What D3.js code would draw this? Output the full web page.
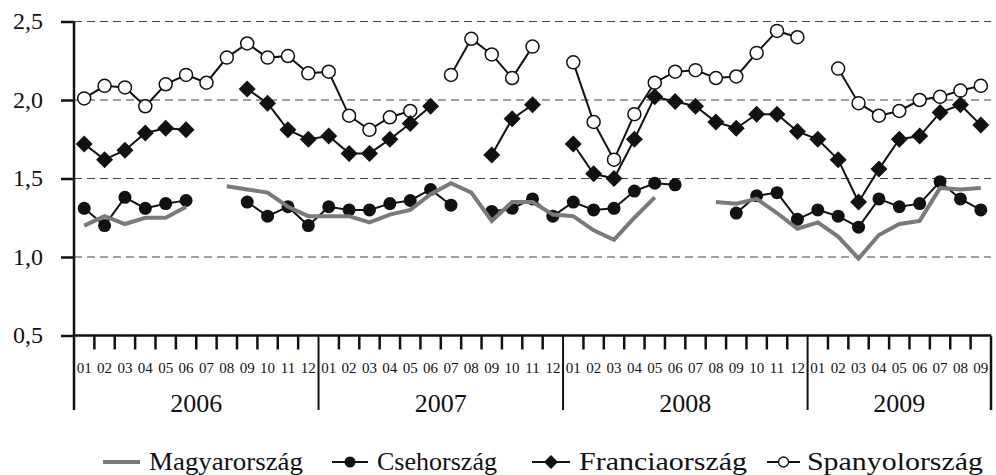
<!DOCTYPE html>
<html>
<head>
<meta charset="utf-8">
<script src="https://cdn.jsdelivr.net/npm/d3@7"></script>
<style>
  body { margin: 0; background: #fff; }
  text { font-family: "Liberation Serif", "Times New Roman", serif; fill: #111; }
</style>
</head>
<body>
<svg id="chart" width="996" height="475"></svg>
<script>
// months 2006-01 .. 2009-09
var years = ["2006", "2007", "2008", "2009"];
var monthsPerYear = [12, 12, 12, 9];
var monthLabels = ["01","02","03","04","05","06","07","08","09","10","11","12"];
var yTicks = [0.5, 1.0, 1.5, 2.0, 2.5];

var magyar = [1.20,1.26,1.21,1.25,1.25,1.32,null,1.45,1.43,1.41,1.32,1.26,
	1.26,1.26,1.22,1.27,1.30,1.40,1.47,1.41,1.23,1.35,1.35,1.27,
	1.26,1.17,1.11,1.25,1.38,null,null,1.35,1.34,1.37,1.28,1.18,
	1.22,1.13,0.99,1.14,1.21,1.23,1.44,1.43,1.44];
var cseh = [1.31,1.20,1.38,1.31,1.34,1.36,null,null,1.35,1.26,1.32,1.20,
	1.32,1.30,1.30,1.34,1.36,1.43,1.33,null,1.29,1.31,1.37,1.26,
	1.35,1.30,1.31,1.42,1.47,1.46,null,null,1.28,1.39,1.41,1.24,
	1.30,1.26,1.19,1.37,1.32,1.34,1.48,1.37,1.30];
var francia = [1.72,1.62,1.68,1.79,1.82,1.81,null,null,2.07,1.98,1.81,1.75,
	1.77,1.66,1.66,1.75,1.85,1.96,null,null,1.65,1.88,1.97,null,
	1.72,1.53,1.50,1.75,2.02,1.99,1.96,1.86,1.82,1.91,1.91,1.80,
	1.75,1.62,1.35,1.56,1.75,1.77,1.92,1.97,1.84];
var spanyol = [2.01,2.09,2.08,1.96,2.10,2.16,2.11,2.27,2.36,2.27,2.28,2.17,
	2.18,1.90,1.81,1.89,1.93,null,2.16,2.39,2.29,2.14,2.34,null,
	2.24,1.86,1.62,1.91,2.11,2.18,2.19,2.14,2.15,2.30,2.44,2.40,
	null,2.20,1.98,1.90,1.93,2.00,2.02,2.06,2.09];

var seriesNames = ["Magyarország", "Csehország", "Franciaország", "Spanyolország"];

// month list built from the years
var months = [];
years.forEach(function(yr, i) {
	for (var m = 0; m < monthsPerYear[i]; m++) months.push({year: yr, label: monthLabels[m]});
});

var svg = d3.select("#chart"),
	plotL = 74, plotR = 991, plotT = 21.5, plotB = 335.5, axisLow = 410;

var x = d3.scaleBand().domain(d3.range(months.length)).range([plotL, plotR]).padding(0);
var y = d3.scaleLinear().domain([0.5, 2.5]).range([plotB, plotT]);
var cx = function(i) { return x(i) + x.bandwidth() / 2; };

// dashed grid
svg.append("g").selectAll("line").data(yTicks.slice(1)).join("line")
	.attr("x1", plotL).attr("x2", plotR)
	.attr("y1", d => y(d)).attr("y2", d => y(d))
	.attr("stroke", "#444").attr("stroke-width", 1.2)
	.attr("stroke-dasharray", "8,5");

// y axis
var yAxis = svg.append("g").attr("transform", "translate(" + plotL + ",0)")
	.call(d3.axisLeft(y).tickValues(yTicks).tickSize(13).tickPadding(18)
		.tickFormat(d => d3.format(".1f")(d).replace(".", ",")));
yAxis.attr("font-family", "Liberation Serif").attr("font-size", 24);
yAxis.select(".domain").remove();
yAxis.selectAll("line").attr("stroke", "#111").attr("stroke-width", 2.5);
yAxis.selectAll("text").attr("dy", "0.3em").attr("fill", "#111");
svg.append("line").attr("x1", plotL).attr("x2", plotL).attr("y1", plotT).attr("y2", axisLow)
	.attr("stroke", "#111").attr("stroke-width", 2.5);

// x axis: month ticks, year separators
svg.append("line").attr("x1", plotL).attr("x2", plotR).attr("y1", plotB).attr("y2", plotB)
	.attr("stroke", "#111").attr("stroke-width", 2.5);
var bounds = d3.range(1, months.length);
svg.append("g").selectAll("line").data(bounds).join("line")
	.attr("x1", d => x(d)).attr("x2", d => x(d))
	.attr("y1", plotB).attr("y2", d => months[d].label == "01" ? axisLow : plotB + 14)
	.attr("stroke", "#111").attr("stroke-width", d => months[d].label == "01" ? 2 : 2.5);
svg.append("line").attr("x1", plotR).attr("x2", plotR).attr("y1", plotB).attr("y2", axisLow)
	.attr("stroke", "#111").attr("stroke-width", 2.5);

svg.append("g").selectAll("text").data(months).join("text")
	.attr("x", (d, i) => cx(i)).attr("y", 373)
	.attr("text-anchor", "middle").attr("font-size", 15)
	.text(d => d.label);

var start = 0;
years.forEach(function(yr, i) {
	var a = x(start), b = x(start + monthsPerYear[i] - 1) + x.bandwidth();
	svg.append("text").attr("x", (a + b) / 2).attr("y", 412)
		.attr("text-anchor", "middle").attr("font-size", 26).text(yr);
	start += monthsPerYear[i];
});

// series
function lineFor(vals) {
	return d3.line().defined(d => d != null).x((d, i) => cx(i)).y(d => y(d))(vals);
}
function diamond(g, px, py, s) {
	g.append("path").attr("d", "M" + px + "," + (py - s) + "L" + (px + s) + "," + py +
		"L" + px + "," + (py + s) + "L" + (px - s) + "," + py + "Z").attr("fill", "#111");
}

var gS = svg.append("g");
gS.append("path").attr("d", lineFor(spanyol)).attr("fill", "none").attr("stroke", "#111").attr("stroke-width", 2);
spanyol.forEach(function(v, i) {
	if (v == null) return;
	gS.append("circle").attr("cx", cx(i)).attr("cy", y(v)).attr("r", 6.5)
		.attr("fill", "#fff").attr("stroke", "#111").attr("stroke-width", 1.5);
});

var gF = svg.append("g");
gF.append("path").attr("d", lineFor(francia)).attr("fill", "none").attr("stroke", "#111").attr("stroke-width", 2);
francia.forEach(function(v, i) {
	if (v == null) return;
	diamond(gF, cx(i), y(v), 8.5);
});

var gC = svg.append("g");
gC.append("path").attr("d", lineFor(cseh)).attr("fill", "none").attr("stroke", "#111").attr("stroke-width", 2);
cseh.forEach(function(v, i) {
	if (v == null) return;
	gC.append("circle").attr("cx", cx(i)).attr("cy", y(v)).attr("r", 6.5).attr("fill", "#111");
});

svg.append("path").attr("d", lineFor(magyar)).attr("fill", "none")
	.attr("stroke", "#7a7a7a").attr("stroke-width", 4);

// legend
var legX = [103, 332, 532, 767], legW = [37, 36, 38, 33];
var legTextX = [149, 377, 579, 807], legTextW = [154, 120, 168, 176];
var legY = 462;
seriesNames.forEach(function(name, i) {
	var g = svg.append("g");
	var x0 = legX[i], x1 = legX[i] + legW[i], xm = (x0 + x1) / 2;
	if (i == 0) {
		g.append("line").attr("x1", x0).attr("x2", x1).attr("y1", legY).attr("y2", legY)
			.attr("stroke", "#7a7a7a").attr("stroke-width", 4);
	} else {
		g.append("line").attr("x1", x0).attr("x2", x1).attr("y1", legY).attr("y2", legY)
			.attr("stroke", "#111").attr("stroke-width", 2);
		if (i == 1) g.append("circle").attr("cx", xm).attr("cy", legY).attr("r", 5.5).attr("fill", "#111");
		if (i == 2) diamond(g, xm, legY, 7);
		if (i == 3) g.append("circle").attr("cx", xm).attr("cy", legY).attr("r", 5)
			.attr("fill", "#fff").attr("stroke", "#111").attr("stroke-width", 1.3);
	}
	g.append("text").attr("x", legTextX[i]).attr("y", 470).attr("font-size", 26)
		.attr("textLength", legTextW[i]).attr("lengthAdjust", "spacingAndGlyphs").text(name);
});
</script>
</body>
</html>
